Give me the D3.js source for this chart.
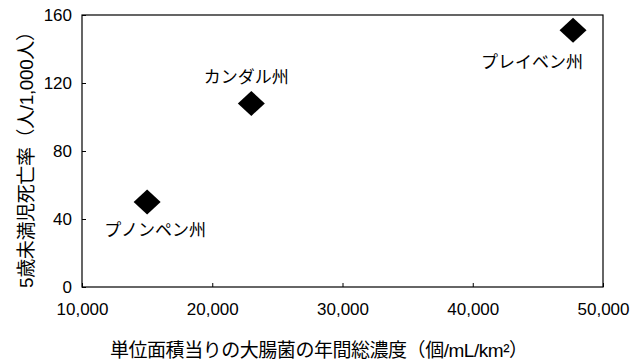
<!DOCTYPE html>
<html><head><meta charset="utf-8">
<script src="https://cdn.jsdelivr.net/npm/d3@7"></script>
<style>
html,body{margin:0;padding:0;background:#fff;}
text{font-family:"Liberation Sans","Noto Sans CJK JP",sans-serif;fill:#000;}
</style></head>
<body>
<svg id="chart" width="641" height="364"></svg>
<script>
const provinces = ["プノンペン州", "カンダル州", "プレイベン州"];
const ecoliConcentration = [15000, 23000, 47700];
const under5Mortality = [50, 108, 151];
const xTicks = [10000, 20000, 30000, 40000, 50000];
const yTicks = [0, 40, 80, 120, 160];
const xTitle = "単位面積当りの大腸菌の年間総濃度（個/mL/km²）";
const yTitle = "5歳未満児死亡率（人/1,000人）";

// label placement relative to marker (layout, not data)
const labelLayout = [
  {dx: 8, dy: 34},
  {dx: -5, dy: -20},
  {dx: -41, dy: 38}
];

const svg = d3.select("#chart");
const L = 82, R = 603, T = 15, B = 287;
const x = d3.scaleLinear().domain([10000, 50000]).range([L, R]);
const y = d3.scaleLinear().domain([0, 160]).range([B, T]);
const fmt = d3.format(",");

// frame
svg.append("rect").attr("x", L).attr("y", T).attr("width", R - L).attr("height", B - T)
  .attr("fill", "none").attr("stroke", "#000").attr("stroke-width", 1.2);

// x axis
const xa = svg.append("g").attr("transform", `translate(0,${B})`)
  .call(d3.axisBottom(x).tickValues(xTicks).tickFormat(fmt).tickSizeInner(-4).tickSizeOuter(0).tickPadding(16));
xa.select(".domain").remove();
xa.selectAll("text").attr("font-size", 17).attr("dy", "0.71em").style("font-family", "Liberation Sans");
xa.selectAll("line").attr("stroke", "#000");

// y axis
const ya = svg.append("g").attr("transform", `translate(${L},0)`)
  .call(d3.axisLeft(y).tickValues(yTicks).tickSizeInner(-4).tickSizeOuter(0).tickPadding(10));
ya.select(".domain").remove();
ya.selectAll("text").attr("font-size", 17).style("font-family", "Liberation Sans");
ya.selectAll("line").attr("stroke", "#000");

// titles
svg.append("text").attr("x", 319).attr("y", 357).attr("text-anchor", "middle")
  .attr("font-size", 19).attr("textLength", 418).attr("lengthAdjust", "spacing").text(xTitle);
svg.append("text").attr("transform", `translate(33,${155}) rotate(-90)`)
  .attr("text-anchor", "middle").attr("font-size", 19)
  .attr("textLength", 266).attr("lengthAdjust", "spacing").text(yTitle);

// markers
const hw = 13.5, hh = 12.5;
const pts = provinces.map((p, i) => ({name: p, cx: x(ecoliConcentration[i]), cy: y(under5Mortality[i]), lay: labelLayout[i]}));
svg.selectAll("path.pt").data(pts).join("path").attr("class", "pt")
  .attr("d", d => `M${d.cx},${d.cy - hh}L${d.cx + hw},${d.cy}L${d.cx},${d.cy + hh}L${d.cx - hw},${d.cy}Z`)
  .attr("fill", "#000");
svg.selectAll("text.lbl").data(pts).join("text").attr("class", "lbl")
  .attr("x", d => d.cx + d.lay.dx).attr("y", d => d.cy + d.lay.dy)
  .attr("text-anchor", "middle").attr("font-size", 17).text(d => d.name);
</script>
</body></html>
